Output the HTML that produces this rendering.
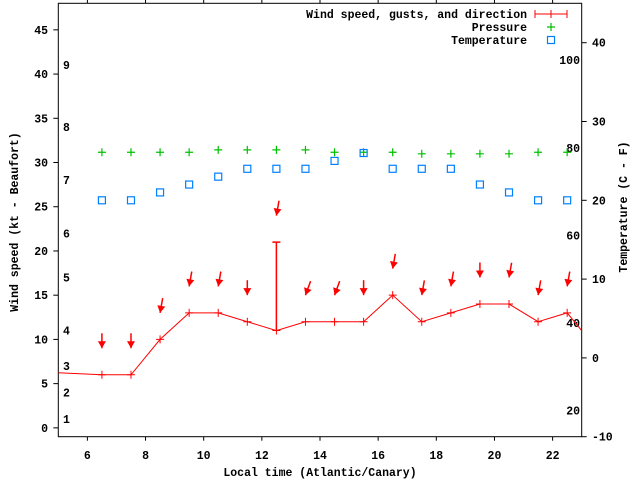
<!DOCTYPE html>
<html><head><meta charset="utf-8"><style>
html,body{margin:0;padding:0;background:#fff}
svg{display:block}
text{font-family:"Liberation Mono",monospace;font-size:11.5px;font-weight:bold;fill:#000}
</style></head><body>
<svg id="chart" width="640" height="480" viewBox="0 0 640 480" xmlns="http://www.w3.org/2000/svg">
<defs><clipPath id="plotclip"><rect x="58.3" y="3.3" width="523.4" height="433.4"/></clipPath></defs>
<rect x="0" y="0" width="640" height="480" fill="#fff"/>
<g id="axes"></g>
<g id="marks" clip-path="url(#plotclip)"></g>
<g id="legend"></g>
<text x="320" y="476" text-anchor="middle">Local time (Atlantic/Canary)</text>
<text transform="translate(18,222) rotate(-90)" text-anchor="middle">Wind speed (kt - Beaufort)</text>
<text transform="translate(627,207) rotate(-90)" text-anchor="middle">Temperature (C - F)</text>
</svg>
<script>
const hours = [4.5,6.5,7.5,8.5,9.5,10.5,11.5,12.5,13.5,14.5,15.5,16.5,17.5,18.5,19.5,20.5,21.5,22.5,23.5];
const windSpeed = [6.3,6,6,10,13,13,12,11,12,12,12,15,12,13,14,14,12,13,9];
const gusts = [null,null,null,null,null,null,null,21,null,null,null,null,null,null,null,null,null,null,null];
const windDir = [0,0,0,10,10,10,0,10,20,20,0,10,10,10,0,10,10,10,0];
const obsHours = [6.5,7.5,8.5,9.5,10.5,11.5,12.5,13.5,14.5,15.5,16.5,17.5,18.5,19.5,20.5,21.5,22.5];
const temperature = [20,20,21,22,23,24,24,24,25,26,24,24,24,22,21,20,20];
const pressure = [26.1,26.1,26.1,26.1,26.4,26.4,26.4,26.4,26.1,26.1,26.1,25.9,25.9,25.9,25.9,26.1,26.1];
const xTicks = [6,8,10,12,14,16,18,20,22];
const yTicks = [0,5,10,15,20,25,30,35,40,45];
const y2Ticks = [-10,0,10,20,30,40];
const beaufortLevels = [1,2,3,4,5,6,7,8,9];
const beaufortKt = [1,4,7,11,17,22,28,34,41];
const fahrenheitTicks = [20,40,60,80,100];

const L=58.3,R=581.7,T=3.3,B=436.7;
const x=h=>L+(h-5)*(R-L)/18;
const y=v=>B-(v+1)*(B-T)/49;
const y2=t=>B-(t+10)*(B-T)/55;
const NS="http://www.w3.org/2000/svg";
function mk(tag,attrs,parent,txt){const e=document.createElementNS(NS,tag);for(const k in attrs)e.setAttribute(k,attrs[k]);if(txt!==undefined)e.textContent=txt;parent.appendChild(e);return e;}
const axes=document.getElementById('axes'),marks=document.getElementById('marks'),legend=document.getElementById('legend');

const border=mk('rect',{x:L,y:T,width:R-L,height:B-T,fill:'none',stroke:'#000','stroke-width':1},axes);


xTicks.forEach(h=>{
  const t1=mk('line',{x1:x(h),x2:x(h),y1:B,y2:B+4,stroke:'#000'},axes);
  
  
  const t2=mk('line',{x1:x(h),x2:x(h),y1:T,y2:T-4,stroke:'#000'},axes);
  
  
  const lb=mk('text',{x:x(h),y:459,'text-anchor':'middle'},axes,String(h));
  
  
});
yTicks.forEach(v=>{
  const t=mk('line',{x1:L-5,x2:L,y1:y(v),y2:y(v),stroke:'#000'},axes);
  
  
  const lb=mk('text',{x:48,y:y(v)+4,'text-anchor':'end'},axes,String(v));
  
  
});
y2Ticks.forEach(v=>{
  const t=mk('line',{x1:R,x2:R+5,y1:y2(v),y2:y2(v),stroke:'#000'},axes);
  
  
  const lb=mk('text',{x:592,y:y2(v)+4,'text-anchor':'start'},axes,String(v));
  
  
});
beaufortLevels.forEach((b,i)=>{
  const lb=mk('text',{x:63,y:y(beaufortKt[i])+4},axes,String(b));
  
  
});
fahrenheitTicks.forEach(f=>{
  const c=(f-32)*5/9;
  const lb=mk('text',{x:580,y:y2(c)+4,'text-anchor':'end'},axes,String(f));
  
  
});

// wind line
const pts=hours.map((h,i)=>x(h)+','+y(windSpeed[i])).join(' ');
const wl=mk('polyline',{points:pts,fill:'none',stroke:'#f00','stroke-width':1},marks);


hours.forEach((h,i)=>{
  const cx=x(h),cy=y(windSpeed[i]);
  const p=mk('path',{d:`M${cx-4},${cy}H${cx+4}M${cx},${cy-4}V${cy+4}`,stroke:'#f00','stroke-width':1},marks);
  
  
  if(gusts[i]!=null){
    const g=mk('path',{d:`M${cx},${cy}V${y(gusts[i])}M${cx-4},${y(gusts[i])}H${cx+4}`,stroke:'#f00','stroke-width':1.5},marks);
    
    
  }
  // direction arrow
  const top=Math.max(windSpeed[i],gusts[i]||0)+3;
  const tx=cx,ty=y(top);
  const a=windDir[i]*Math.PI/180;
  const dx=Math.sin(a),dy=-Math.cos(a);
  const len=15;
  const ag=mk('g',{},marks);
  
  
  mk('line',{x1:tx+dx*len,y1:ty+dy*len,x2:tx,y2:ty,stroke:'#f00','stroke-width':1.5},ag);
  const px=-dy,py=dx,hl=7,hw=4;
  const bx=tx+dx*hl,by=ty+dy*hl;
  mk('polygon',{points:`${tx},${ty} ${bx+px*hw},${by+py*hw} ${bx-px*hw},${by-py*hw}`,fill:'#f00'},ag);
});
obsHours.forEach((h,i)=>{
  const cx=x(h),cy=y2(pressure[i]);
  const p=mk('path',{d:`M${cx-4},${cy}H${cx+4}M${cx},${cy-4}V${cy+4}`,stroke:'#00c000','stroke-width':1.2},marks);
  
  
  const ty=y2(temperature[i]);
  const s=mk('rect',{x:cx-3.5,y:ty-3.5,width:7,height:7,fill:'none',stroke:'#0080ff','stroke-width':1.2},marks);
  
  
});

// legend
const l1=mk('text',{x:527,y:18,'text-anchor':'end'},legend,'Wind speed, gusts, and direction');


const ls=mk('path',{d:'M535,14H567M535,10V18M567,10V18M551,10V18',stroke:'#f00','stroke-width':1},legend);


const l2=mk('text',{x:527,y:31,'text-anchor':'end'},legend,'Pressure');


const ps=mk('path',{d:'M547,27H555M551,23V31',stroke:'#00c000','stroke-width':1.2},legend);


const l3=mk('text',{x:527,y:44,'text-anchor':'end'},legend,'Temperature');


const tsq=mk('rect',{x:547.5,y:36.5,width:7,height:7,fill:'none',stroke:'#0080ff','stroke-width':1.2},legend);


</script>
</body></html>
